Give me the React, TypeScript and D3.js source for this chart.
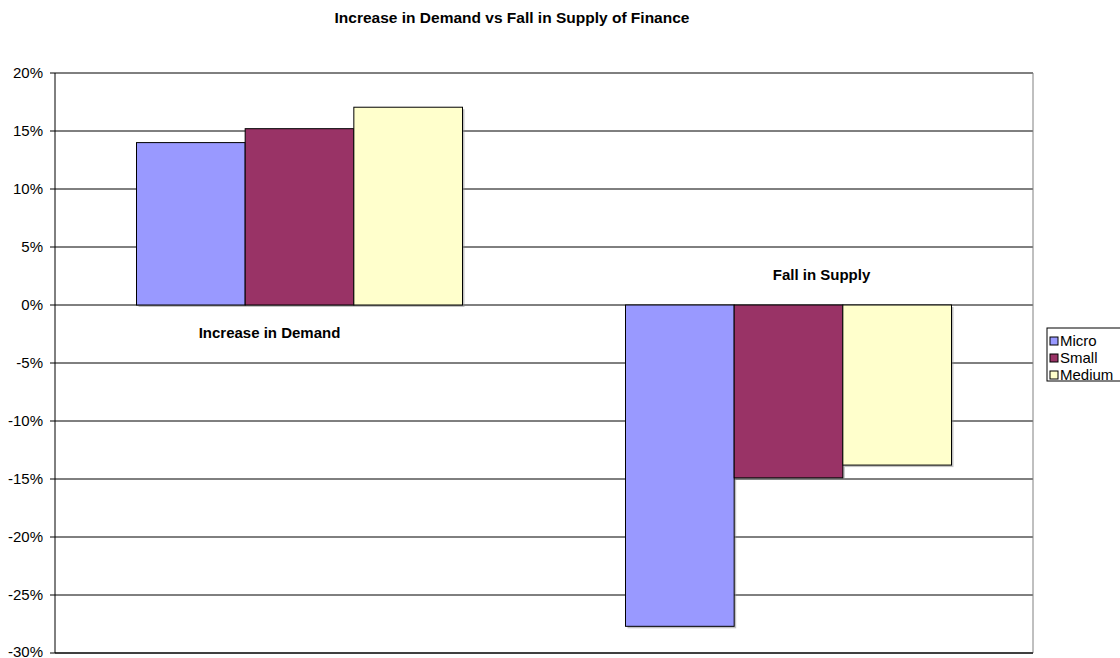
import React from 'react'
import * as d3 from 'd3'

const categories = ['Increase in Demand', 'Fall in Supply']
const seriesNames = ['Micro', 'Small', 'Medium']
const seriesColors = ['#9999FF', '#993366', '#FFFFCC']
const micro = [0.14, -0.277]
const small = [0.152, -0.149]
const medium = [0.1705, -0.138]
const yTicks = [0.2, 0.15, 0.1, 0.05, 0, -0.05, -0.1, -0.15, -0.2, -0.25, -0.3]

const width = 1120
const height = 658
const left = 55
const right = 1033
const top = 73
const bottom = 653

// label offsets (not centred on the groups)
const labelDx = [-30, 33]

function App() {
  const values = [micro, small, medium]
  const x0 = d3.scaleBand().domain(categories).range([left, right]).paddingInner(0).paddingOuter(0)
  const bandW = x0.bandwidth()
  // gap width 150%: bars take 3 / (3 + 1.5) of each category
  const groupW = bandW * (3 / 4.5)
  const x1 = d3
    .scaleBand()
    .domain(seriesNames)
    .range([(bandW - groupW) / 2, (bandW + groupW) / 2])
  const y = d3.scaleLinear().domain([-0.3, 0.2]).range([bottom, top])
  const fmt = (t: number) => d3.format('.0%')(t).replace('\u2212', '-')

  return (
    <svg
      width={width}
      height={height}
      style={{ position: 'absolute', left: 0, top: 0, fontFamily: 'Arial, Liberation Sans, sans-serif' }}
    >
      <rect x={0} y={0} width={width} height={height} fill="#fff" />
      <text x={512} y={23} textAnchor="middle" fontSize={15.5} fontWeight="bold">
        Increase in Demand vs Fall in Supply of Finance
      </text>
      {yTicks.map(t => (
        <g key={t}>
          <line x1={left} x2={right} y1={y(t)} y2={y(t)} stroke="#000" strokeWidth={1} />
          <line x1={left - 5} x2={left} y1={y(t)} y2={y(t)} stroke="#000" />
          <text x={left - 12} y={y(t) + (t === -0.3 ? 4 : 5)} textAnchor="end" fontSize={15}>
            {fmt(t)}
          </text>
        </g>
      ))}
      <line x1={right} x2={right} y1={top} y2={bottom} stroke="#808080" />
      {categories.map((c, ci) => (
        <g key={c} transform={`translate(${x0(c)},0)`}>
          {seriesNames.map((s, si) => {
            const v = values[si][ci]
            const y0 = y(0)
            const yv = y(v)
            return (
              <g key={s}>
                <rect
                  x={x1(s)! + 2}
                  y={Math.min(y0, yv) + 2}
                  width={x1.bandwidth()}
                  height={Math.abs(yv - y0)}
                  fill="#888"
                  opacity={0.5}
                />
                <rect
                  x={x1(s)}
                  y={Math.min(y0, yv)}
                  width={x1.bandwidth()}
                  height={Math.abs(yv - y0)}
                  fill={seriesColors[si]}
                  stroke="#000"
                  strokeWidth={1}
                />
              </g>
            )
          })}
        </g>
      ))}
      <line x1={left} x2={left} y1={top} y2={bottom} stroke="#000" />
      <line x1={left} x2={right} y1={bottom} y2={bottom} stroke="#000" />
      {categories.map((c, ci) => {
        const pos = micro[ci] >= 0
        return (
          <text
            key={c}
            x={x0(c)! + bandW / 2 + labelDx[ci]}
            y={pos ? y(0) + 33 : y(0) - 25}
            textAnchor="middle"
            fontSize={15}
            fontWeight="bold"
          >
            {c}
          </text>
        )
      })}
      <g transform="translate(1047,328)">
        <rect x={0} y={0} width={80} height={53} fill="#fff" stroke="#000" />
        {seriesNames.map((s, i) => (
          <g key={s} transform={`translate(3,${9 + i * 17})`}>
            <rect x={0} y={0} width={8} height={8} fill={seriesColors[i]} stroke="#000" />
            <text x={10} y={9} fontSize={15}>
              {s}
            </text>
          </g>
        ))}
      </g>
    </svg>
  )
}

export default App
